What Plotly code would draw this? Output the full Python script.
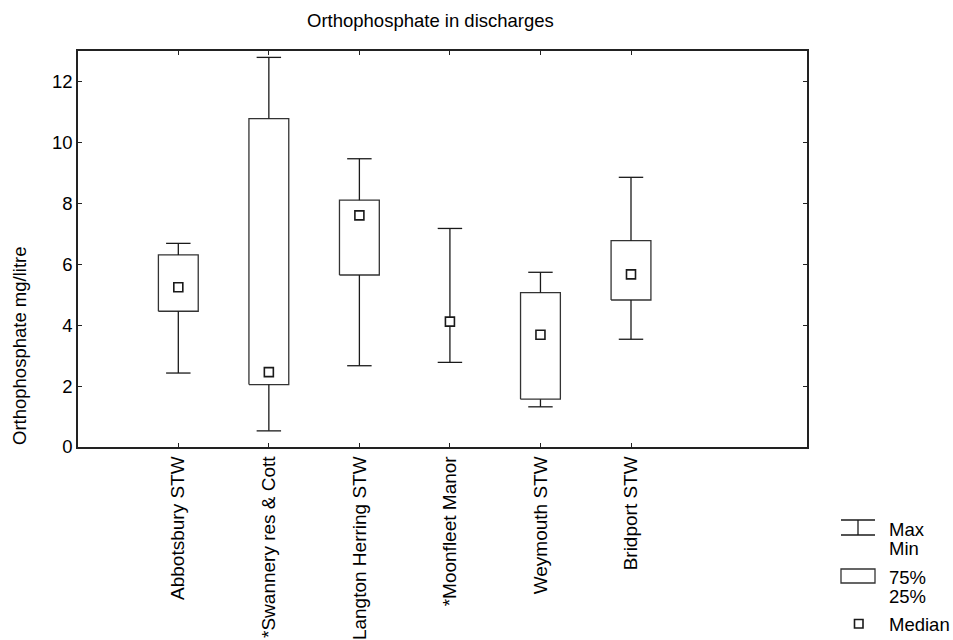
import plotly.graph_objects as go

categories = ["Abbotsbury STW", "*Swannery res & Cott", "Langton Herring STW",
              "*Moonfleet Manor", "Weymouth STW", "Bridport STW"]
max_vals = [6.69, 12.80, 9.47, 7.18, 5.74, 8.86]
q3_vals = [6.31, 10.79, 8.11, None, 5.07, 6.78]
median_vals = [5.25, 2.46, 7.61, 4.12, 3.69, 5.67]
q1_vals = [4.46, 2.05, 5.65, None, 1.57, 4.83]
min_vals = [2.43, 0.53, 2.67, 2.78, 1.32, 3.54]
y_ticks = [0, 2, 4, 6, 8, 10, 12]

FONT = "Liberation Sans, Arial, sans-serif"
FS = 18.5
TFS = 19
LINE = "#1a1a1a"
BOX_HW = 0.22
CAP_HW = 0.135

fig = go.Figure()

# boxes
bx, by = [], []
for i, (lo, hi) in enumerate(zip(q1_vals, q3_vals)):
    if lo is None or hi is None:
        continue
    bx += [i - BOX_HW, i + BOX_HW, i + BOX_HW, i - BOX_HW, i - BOX_HW, None]
    by += [lo, lo, hi, hi, lo, None]
fig.add_trace(go.Scatter(x=bx, y=by, mode="lines", line=dict(color="#333333", width=1.3),
                         hoverinfo="skip", showlegend=False))

# whiskers and caps
wx, wy = [], []
for i in range(len(categories)):
    if q3_vals[i] is None or q1_vals[i] is None:
        wx += [i, i, None]
        wy += [min_vals[i], max_vals[i], None]
    else:
        wx += [i, i, None, i, i, None]
        wy += [q3_vals[i], max_vals[i], None, min_vals[i], q1_vals[i], None]
    wx += [i - CAP_HW, i + CAP_HW, None, i - CAP_HW, i + CAP_HW, None]
    wy += [max_vals[i], max_vals[i], None, min_vals[i], min_vals[i], None]
fig.add_trace(go.Scatter(x=wx, y=wy, mode="lines", line=dict(color=LINE, width=1.3),
                         hoverinfo="skip", showlegend=False))

# medians
fig.add_trace(go.Scatter(x=list(range(len(categories))), y=median_vals, mode="markers",
                         marker=dict(symbol="square", size=9, color="white",
                                     line=dict(color=LINE, width=1.6)),
                         showlegend=False))

# legend drawn manually (pixel -> paper coordinates)
L, R, T, B = 78, 807, 51, 447
def px(x):
    return (x - L) / (R - L)
def py(y):
    return (B - y) / (B - T)

shapes = []
lw = 1.3
shapes.append(dict(type="line", xref="paper", yref="paper", x0=px(841), x1=px(875), y0=py(520), y1=py(520), line=dict(color=LINE, width=lw)))
shapes.append(dict(type="line", xref="paper", yref="paper", x0=px(841), x1=px(875), y0=py(535), y1=py(535), line=dict(color=LINE, width=lw)))
shapes.append(dict(type="line", xref="paper", yref="paper", x0=px(858), x1=px(858), y0=py(520), y1=py(535), line=dict(color=LINE, width=lw)))
shapes.append(dict(type="rect", xref="paper", yref="paper", x0=px(841), x1=px(875), y0=py(569), y1=py(583), line=dict(color="#333333", width=lw)))
shapes.append(dict(type="rect", xref="paper", yref="paper", x0=px(854.5), x1=px(863), y0=py(619.5), y1=py(628), line=dict(color=LINE, width=1.6), fillcolor="white"))

annots = []
for txt, yy in [("Max", 529), ("Min", 548), ("75%", 577.5), ("25%", 596.5), ("Median", 624)]:
    annots.append(dict(text=txt, xref="paper", yref="paper", x=px(888), y=py(yy),
                       xanchor="left", yanchor="middle", showarrow=False, borderpad=0,
                       font=dict(family=FONT, size=FS, color="black")))
annots.append(dict(text="Orthophosphate mg/litre", xref="paper", yref="paper",
                   x=px(19), y=py(346), textangle=-90, xanchor="center", yanchor="middle",
                   showarrow=False, font=dict(family=FONT, size=FS, color="black")))
annots.append(dict(text="Orthophosphate in discharges", xref="paper", yref="paper",
                   x=px(430.5), y=py(20), xanchor="center", yanchor="middle",
                   showarrow=False, font=dict(family=FONT, size=FS, color="black")))

fig.update_layout(
    width=953, height=640,
    margin=dict(l=L, r=953 - R, t=T, b=640 - B, autoexpand=False),
    paper_bgcolor="white", plot_bgcolor="white",
    shapes=shapes, annotations=annots,
    font=dict(family=FONT, size=FS, color="black"),
    showlegend=False,
)
fig.update_xaxes(range=[-1.108, 6.944], tickvals=list(range(len(categories))), ticktext=categories,
                 tickangle=-90, showline=True, mirror="ticks", linecolor="#222222", linewidth=1.5,
                 ticks="inside", ticklen=4, tickcolor="#222222", showgrid=False, zeroline=False,
                 automargin=False,
                 tickfont=dict(family=FONT, size=TFS, color="black"), fixedrange=True)
fig.update_yaxes(range=[0, 13.01], tickvals=y_ticks, showline=True, mirror="ticks",
                 linecolor="#222222", linewidth=1.5, ticks="inside", ticklen=4, tickcolor="#222222",
                 showgrid=False, zeroline=False, automargin=False,
                 tickfont=dict(family=FONT, size=FS, color="black"), fixedrange=True)

fig.write_html("out.html", config={"displayModeBar": False},
               post_script="document.body.style.margin='0';")
